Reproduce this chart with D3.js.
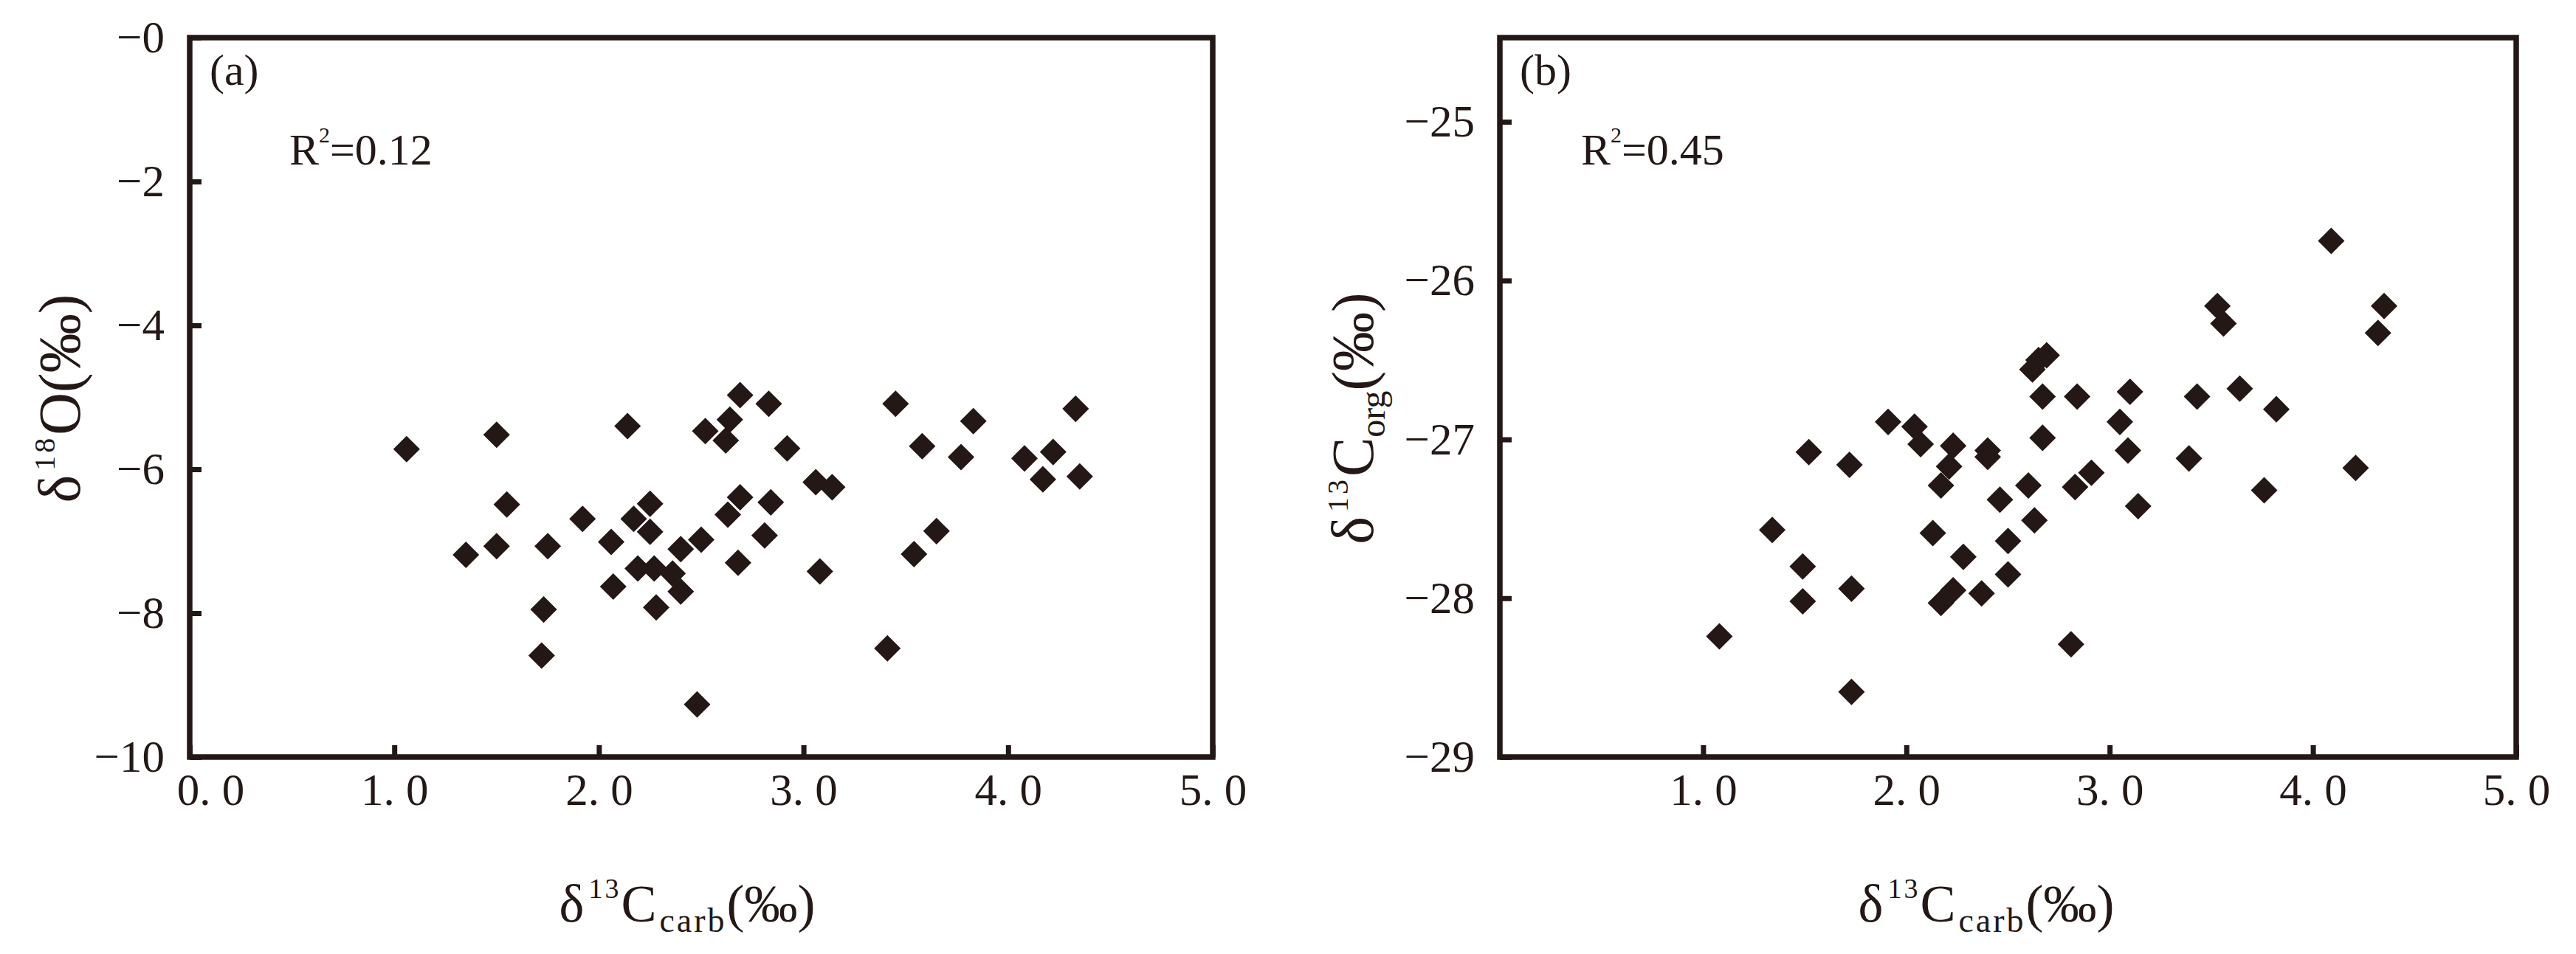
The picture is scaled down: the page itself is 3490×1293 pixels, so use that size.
<!DOCTYPE html>
<meta charset="utf-8">
<style>
body { margin: 0; background: #fff; }
svg text { font-family: "Liberation Serif", "Times New Roman", serif; fill: #231815; }
.frame { fill: none; stroke: #231815; stroke-width: 7.5px; }
.axis line { stroke: #231815; stroke-width: 7px; }
.axis path { display: none; }
.axis text { font-size: 61px; }
.pt { fill: #231815; }
</style>
<svg width="3490" height="1293"></svg>
<script src="https://d3js.org/d3.v7.min.js"></script>
<script>
// panel (a): d13C carb vs d18O
var aCarb = [1.06,1.35,1.50,1.50,1.55,1.72,1.73,1.75,1.92,2.06,2.07,2.14,2.17,2.19,2.25,2.25,2.27,2.28,2.36,2.40,2.40,2.48,2.50,2.52,2.62,2.64,2.63,2.68,2.69,2.69,2.81,2.83,2.84,2.92,3.06,3.14,3.08,3.41,3.45,3.54,3.58,3.65,3.77,3.83,4.08,4.17,4.22,4.33,4.35];
var aO18  = [-5.72,-7.19,-5.52,-7.07,-6.49,-8.59,-7.95,-7.07,-6.69,-7.01,-7.63,-5.40,-6.69,-7.38,-6.48,-6.87,-7.38,-7.92,-7.45,-7.11,-7.70,-9.27,-6.98,-5.47,-5.60,-5.31,-6.63,-7.30,-6.39,-4.97,-6.92,-5.09,-6.46,-5.71,-6.18,-6.25,-7.42,-8.49,-5.09,-7.18,-5.68,-6.86,-5.83,-5.33,-5.85,-6.14,-5.76,-5.16,-6.10];
// panel (b): d13C carb vs d13C org
var bCarb = [1.08,1.34,1.49,1.49,1.52,1.72,1.73,1.73,1.91,2.04,2.07,2.13,2.17,2.17,2.23,2.21,2.23,2.28,2.37,2.40,2.40,2.46,2.50,2.50,2.60,2.63,2.62,2.65,2.69,2.67,2.67,2.81,2.83,2.84,2.91,3.05,3.09,3.10,3.14,3.39,3.43,3.53,3.56,3.64,3.76,3.82,4.09,4.21,4.32,4.35];
var bOrg  = [-28.24,-27.57,-27.80,-28.02,-27.08,-27.16,-27.94,-28.59,-26.89,-26.92,-27.03,-27.59,-27.29,-28.03,-27.04,-27.17,-27.95,-27.74,-27.97,-27.07,-27.11,-27.38,-27.64,-27.85,-27.29,-27.51,-26.56,-26.50,-26.47,-26.73,-26.99,-28.29,-27.30,-26.73,-27.21,-26.89,-27.07,-26.70,-27.42,-27.12,-26.73,-26.16,-26.27,-26.68,-27.32,-26.81,-25.75,-27.18,-26.33,-26.16];

var aXTicks = [0, 1, 2, 3, 4, 5];
var aYTicks = [0, -2, -4, -6, -8, -10];
var bXTicks = [1, 2, 3, 4, 5];
var bYTicks = [-25, -26, -27, -28, -29];

var svg = d3.select("svg");

var diamond = d3.symbol().type(d3.symbolSquare).size(650);

function minus(d) { return "\u2212" + Math.abs(d); }
function fmtX(d) { return d.toFixed(1).replace(".", ". "); }

function drawPanel(p) {
  var x = d3.scaleLinear().domain(p.xDomain).range([p.left, p.right]);
  var y = d3.scaleLinear().domain(p.yDomain).range([p.bottom, p.top]);

  var g = svg.append("g");

  g.append("g")
      .attr("class", "axis")
      .attr("transform", "translate(0," + p.bottom + ")")
      .call(d3.axisBottom(x).tickValues(p.xTicks).tickFormat(fmtX)
        .tickSizeInner(-16).tickSizeOuter(0).tickPadding(22));

  g.append("g")
      .attr("class", "axis")
      .attr("transform", "translate(" + p.left + ",0)")
      .call(d3.axisLeft(y).tickValues(p.yTicks).tickFormat(minus)
        .tickSizeInner(-16).tickSizeOuter(0).tickPadding(34));

  if (p.shiftZero) {
    g.selectAll(".axis text").filter(function(d) { return d === 0 && this.textContent.indexOf(".") > 0; })
      .attr("dx", 28);
  }

  g.append("rect")
      .attr("class", "frame")
      .attr("x", p.left).attr("y", p.top)
      .attr("width", p.right - p.left).attr("height", p.bottom - p.top);

  g.selectAll(".pt")
    .data(d3.zip(p.xs, p.ys))
    .enter().append("path")
      .attr("class", "pt")
      .attr("d", diamond)
      .attr("transform", function(d) { return "translate(" + x(d[0]) + "," + y(d[1]) + ") rotate(45)"; });

  // panel letter
  g.append("text")
      .attr("x", p.left + 27).attr("y", p.top + 64)
      .style("font-size", "60px")
      .text(p.letter);

  // R squared
  var r = g.append("text")
      .attr("x", p.rx).attr("y", 223)
      .style("font-size", "60px");
  r.append("tspan").text("R");
  r.append("tspan").attr("dy", -30).style("font-size", "30px").text("2");
  r.append("tspan").attr("dy", 30).text("=" + p.r2);

  // x title
  var xt = g.append("text")
      .attr("x", p.xTitleX).attr("y", 1249)
      .attr("text-anchor", "middle")
      .style("font-size", "72px");
  xt.append("tspan").text("\u03b4");
  xt.append("tspan").attr("dy", -32).attr("dx", 6).style("font-size", "38px").style("letter-spacing", "3px").text("13");
  xt.append("tspan").attr("dy", 32).text("C");
  xt.append("tspan").attr("dy", 14).attr("dx", 4).style("font-size", "46px").style("letter-spacing", "3px").text("carb");
  xt.append("tspan").attr("dy", -14).text("(\u2030)");

  // y title
  var yt = g.append("text")
      .attr("transform", "translate(" + p.yTitleX + "," + p.yTitleY + ") rotate(-90)")
      .attr("text-anchor", "middle")
      .style("font-size", "80px");
  yt.append("tspan").text("\u03b4");
  yt.append("tspan").attr("dy", -34).attr("dx", 6).style("font-size", "40px").style("letter-spacing", "4px").text(p.sup);
  yt.append("tspan").attr("dy", 34).text(p.elem);
  if (p.sub) {
    yt.append("tspan").attr("dy", 16).style("font-size", "48px").text(p.sub);
    yt.append("tspan").attr("dy", -16).text("(\u2030)");
  } else {
    yt.append("tspan").text("(\u2030)");
  }
}

drawPanel({
  xs: aCarb, ys: aO18,
  xDomain: [0, 5], yDomain: [-10, 0],
  left: 257, right: 1643, top: 51, bottom: 1026,
  xTicks: aXTicks, yTicks: aYTicks, shiftZero: true,
  letter: "(a)", r2: "0.12", rx: 392,
  xTitleX: 931, yTitleX: 108, yTitleY: 540,
  sup: "18", elem: "O", sub: null
});

drawPanel({
  xs: bCarb, ys: bOrg,
  xDomain: [0, 5], yDomain: [-29, -24.47],
  left: 2032, right: 3409, top: 51, bottom: 1026,
  xTicks: bXTicks, yTicks: bYTicks, shiftZero: false,
  letter: "(b)", r2: "0.45", rx: 2142,
  xTitleX: 2691, yTitleX: 1860, yTitleY: 567,
  sup: "13", elem: "C", sub: "org"
});
</script>
